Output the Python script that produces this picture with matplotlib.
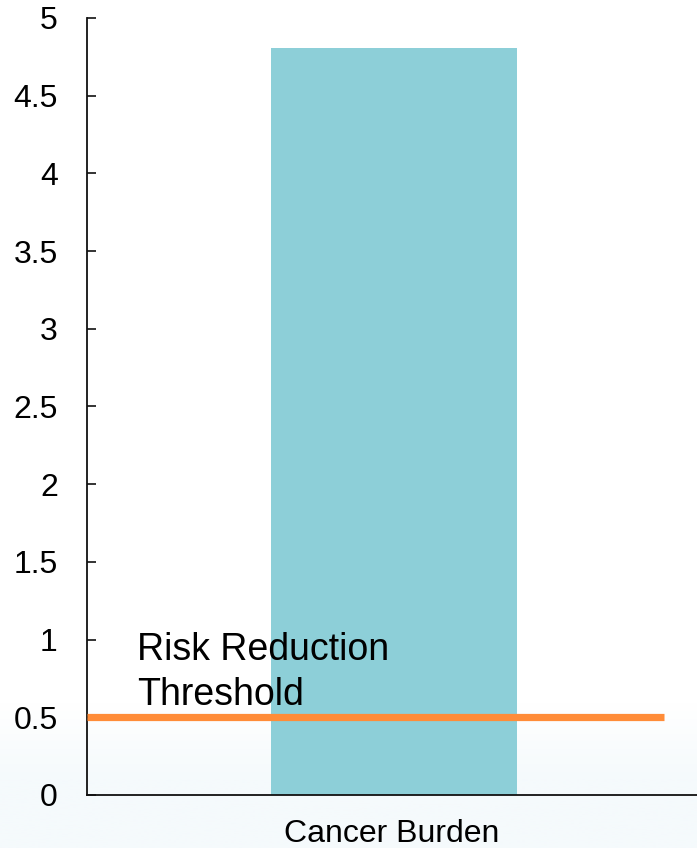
import numpy as np
import matplotlib
matplotlib.use("Agg")
import matplotlib.pyplot as plt
from matplotlib.colors import LinearSegmentedColormap

plt.rcParams['font.family'] = ['Liberation Sans', 'DejaVu Sans']

categories = ["Cancer Burden"]
values = [4.81]
threshold = 0.5
threshold_label = "Risk Reduction\nThreshold"
yticks = [0, 0.5, 1, 1.5, 2, 2.5, 3, 3.5, 4, 4.5, 5]
ytick_labels = ["0", "0.5", "1", "1.5", "2", "2.5", "3", "3.5", "4", "4.5", "5"]

fig = plt.figure(figsize=(6.97, 8.48), dpi=100)

# faint pale-blue wash along the bottom of the figure
bg = fig.add_axes([0, 0, 1, 1], zorder=-10)
bg.set_axis_off()
h = np.linspace(0, 1, 400).reshape(-1, 1)
t = np.clip((0.17 - h) / 0.09, 0, 1)
cmap = LinearSegmentedColormap.from_list("wash", ["#ffffff", "#f5fafc"])
bg.imshow(t, aspect="auto", cmap=cmap, origin="lower", extent=[0, 1, 0, 1], vmin=0, vmax=1)
bg.set_xlim(0, 1)
bg.set_ylim(0, 1)

ax = fig.add_axes([0.1248, 0.0625, 0.8752, 0.9163])
ax.patch.set_alpha(0)

x = np.arange(len(categories))
ax.bar(x + 0.008, values, width=1.008, color="#8dcfd8", zorder=2)
ax.plot([-1.25, 1.115], [threshold, threshold], color="#ff8c38", lw=5.2,
        solid_capstyle="butt", zorder=3)
ax.text(-1.045, 0.579, threshold_label, fontsize=27, va="baseline", ha="left",
        color="black", zorder=4, linespacing=1.32)

ax.set_xlim(-1.25, 1.25)
ax.set_ylim(0, 5)
ax.set_yticks(yticks)
ax.set_yticklabels(ytick_labels)
ax.set_xticks(x)
ax.set_xticklabels(categories)

for side in ("top", "right"):
    ax.spines[side].set_visible(False)
for side in ("left", "bottom"):
    ax.spines[side].set_linewidth(1.3)
    ax.spines[side].set_color("#111111")

ax.tick_params(axis="y", direction="in", length=6.5, width=1.2, labelsize=23, pad=21,
               color="#111111")
ax.tick_params(axis="x", length=0, labelsize=23, pad=17)

fig.savefig("out.png", dpi=100)
